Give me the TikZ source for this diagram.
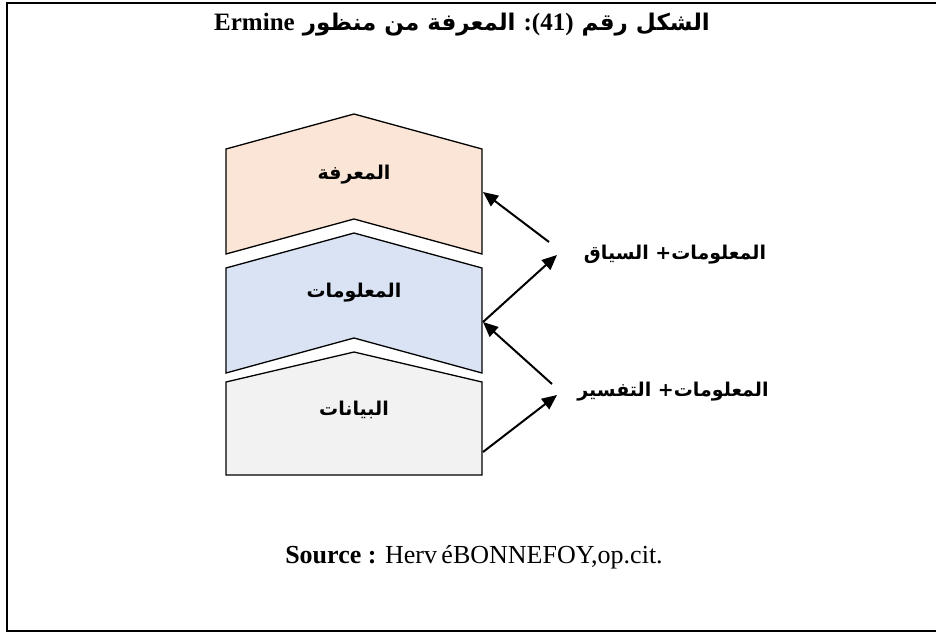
\documentclass[tikz,border=0pt]{standalone}
\usepackage{fontspec}
\setmainfont{Liberation Serif}
\newfontfamily\arabicfont[Script=Arabic]{DejaVu Sans}
\TeXXeTstate=1
\usetikzlibrary{arrows.meta, positioning}
\definecolor{peach}{HTML}{FBE5D6}
\definecolor{paleblue}{HTML}{DAE3F3}
\definecolor{palegray}{HTML}{F2F2F2}
\tikzset{
    layer/.style={draw=black, line width=1.3pt}, % outline of each chevron
    layertext/.style={font=\fontsize{19}{22}\selectfont\bfseries\arabicfont}, % text inside a chevron
    sidetext/.style={font=\fontsize{19}{22}\selectfont\bfseries\arabicfont}, % text at the right
    link/.style={-{Triangle[length=15pt,width=13pt]}, line width=2pt}, % the arrows
}
\begin{document}
\begin{tikzpicture}[x=1pt, y=-1pt]
    \clip (0,0) rectangle (936,632);
    \draw[line width=2pt] (7,3) rectangle (945,631);

    % title
    \node (title) at (462,25) {\fontsize{23}{27}\selectfont\bfseries\arabicfont\beginR الشكل رقم {\rmfamily\fontsize{25}{27}\selectfont\beginL :(41)\endL} المعرفة من منظور {\rmfamily\fontsize{25}{27}\selectfont\beginL Ermine\endL}\endR};

    % the three layers
    \draw[layer, fill=peach] (226,149) -- (354,114) -- (482,149) -- (482,254) -- (354,219) -- (226,254) -- cycle;
    \draw[layer, fill=paleblue] (226,268) -- (354,233) -- (482,268) -- (482,373) -- (354,338) -- (226,373) -- cycle;
    \draw[layer, fill=palegray] (226,382) -- (354,352) -- (482,382) -- (482,475) -- (226,475) -- cycle;

    \node[layertext] (knowledge) at (354,175) {\beginR المعرفة\endR};
    \node[layertext] (information) at (354,293) {\beginR المعلومات\endR};
    \node[layertext] (data) at (354,410) {\beginR البيانات\endR};

    % labels at the right
    \node[sidetext] (context) at (675,255) {\beginR المعلومات+ السياق\endR};
    \node[sidetext] (interpret) at (673,392) {\beginR المعلومات+ التفسير\endR};

    % ends of the arrows
    \coordinate (knowledge-e) at (483,192);
    \coordinate (information-e) at (483,322);
    \coordinate (data-e) at (483,452);
    \coordinate (context-a) at (549,242);
    \coordinate (context-b) at (557,255);
    \coordinate (interpret-a) at (552,384);
    \coordinate (interpret-b) at (557,395);

    \draw[link] (context-a) -- (knowledge-e);
    \draw[link] (information-e) -- (context-b);
    \draw[link] (interpret-a) -- (information-e);
    \draw[link] (data-e) -- (interpret-b);

    % source
    \node (source) at (474,557) {\fontsize{26}{30}\selectfont\textbf{Source :} Herv\,éBONNEFOY,op.cit.};
\end{tikzpicture}
\end{document}
